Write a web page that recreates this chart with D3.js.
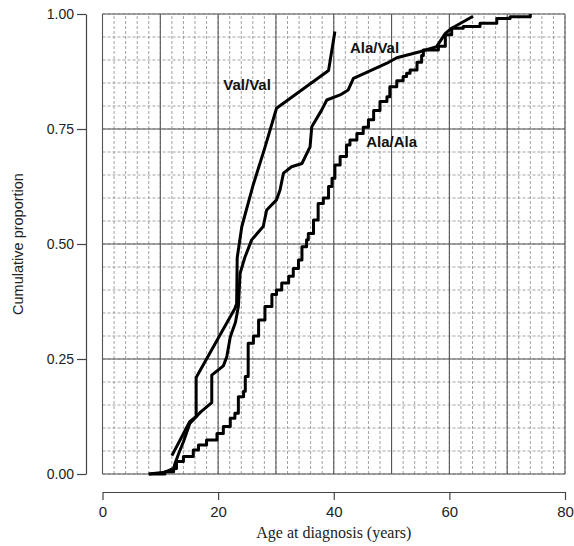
<!DOCTYPE html>
<html>
<head>
<meta charset="utf-8">
<script src="https://cdn.jsdelivr.net/npm/d3@7"></script>
<style>
  body { margin: 0; background: #fff; }
  svg { display: block; }
</style>
</head>
<body>
<div id="chart"></div>
<script>
// ages (years) and cumulative proportion
const valValAge  = [12.0, 15.1, 16.2, 16.2, 22.9, 23.2, 23.3, 24.1, 26.1, 28.1, 30.1, 39.1, 40.2];
const valValProp = [0.04, 0.114, 0.125, 0.21, 0.36, 0.37, 0.47, 0.538, 0.63, 0.71, 0.795, 0.877, 0.962];

const alaValAge  = [8, 10.8, 12.3, 12.6, 13.2, 14.0, 15.1, 17.0, 18.9, 18.9, 20.9, 21.5, 22.1, 23.0, 23.5, 23.8,
                    24.6, 25.8, 27.8, 28.4, 30.1, 30.7, 31.3, 32.7, 34.5, 35.9, 36.2, 37.9, 38.8, 41.1, 42.5,
                    43.4, 45.7, 49.2, 50.9, 54.9, 57.8, 59.3, 60.4, 64.1];
const alaValProp = [0, 0.004, 0.012, 0.025, 0.045, 0.07, 0.11, 0.135, 0.155, 0.215, 0.235, 0.255, 0.298, 0.33, 0.364, 0.436,
                    0.47, 0.509, 0.538, 0.574, 0.596, 0.617, 0.654, 0.668, 0.675, 0.711, 0.755, 0.791, 0.813, 0.824, 0.835,
                    0.86, 0.873, 0.893, 0.905, 0.918, 0.929, 0.958, 0.969, 0.995];

// step function: age of each jump and level after it
const alaAlaAge  = [8, 10.8, 12.3, 12.8, 14.0, 15.7, 16.6, 18.0, 19.8, 20.9, 22.1, 22.9, 23.5, 24.4, 24.7, 25.2,
                    26.1, 27.0, 28.1, 29.3, 30.1, 31.0, 32.2, 33.0, 33.9, 34.5, 35.3, 35.6, 36.5, 37.3, 38.2,
                    39.1, 39.7, 40.2, 41.1, 42.2, 42.8, 44.0, 45.1, 46.0, 46.9, 48.0, 49.2, 49.7, 50.9, 52.0,
                    52.6, 53.2, 54.4, 55.2, 55.5, 58.1, 59.3, 60.4, 62.4, 65.3, 68.2, 70.5, 74.0];
const alaAlaProp = [0, 0.005, 0.012, 0.027, 0.038, 0.052, 0.063, 0.074, 0.088, 0.103, 0.121, 0.132, 0.168, 0.18, 0.212, 0.284,
                    0.30, 0.335, 0.364, 0.39, 0.40, 0.415, 0.43, 0.447, 0.465, 0.494, 0.509, 0.523, 0.552, 0.588, 0.60,
                    0.625, 0.643, 0.672, 0.69, 0.715, 0.726, 0.74, 0.754, 0.77, 0.79, 0.81, 0.82, 0.842, 0.855, 0.864,
                    0.871, 0.878, 0.895, 0.91, 0.922, 0.93, 0.955, 0.969, 0.973, 0.98, 0.99, 0.994, 1.0];

const curveLabels = [
    {text: 'Val/Val', age: 20.9, prop: 0.835},
    {text: 'Ala/Val', age: 42.8, prop: 0.915},
    {text: 'Ala/Ala', age: 45.6, prop: 0.71}
];

const xTicks = [0, 20, 40, 60, 80];
const yTicks = [0, 0.25, 0.5, 0.75, 1];
const xMinor = d3.range(0, 81, 2);
const xMajor = d3.range(0, 81, 10);
const yMinor = d3.range(0, 1.001, 0.05);
const yMajor = [0, 0.25, 0.5, 0.75, 1];

const width = 574, height = 546;
const x = d3.scaleLinear().domain([0, 80]).range([102.5, 565]);
const y = d3.scaleLinear().domain([0, 1]).range([474, 14]);

const svg = d3.select('#chart').append('svg')
    .attr('width', width)
    .attr('height', height);

// grid
const grid = svg.append('g');
grid.selectAll('.vminor').data(xMinor).enter().append('line')
    .attr('x1', d => x(d)).attr('x2', d => x(d))
    .attr('y1', y(0)).attr('y2', y(1))
    .attr('stroke', '#999').attr('stroke-width', 0.9)
    .attr('stroke-dasharray', '3,2');
grid.selectAll('.hminor').data(yMinor).enter().append('line')
    .attr('x1', x(0)).attr('x2', x(80))
    .attr('y1', d => y(d)).attr('y2', d => y(d))
    .attr('stroke', '#999').attr('stroke-width', 0.9)
    .attr('stroke-dasharray', '3,2');
grid.selectAll('.vmajor').data(xMajor).enter().append('line')
    .attr('x1', d => x(d)).attr('x2', d => x(d))
    .attr('y1', y(0)).attr('y2', y(1))
    .attr('stroke', '#555').attr('stroke-width', 1.1);
grid.selectAll('.hmajor').data(yMajor).enter().append('line')
    .attr('x1', x(0)).attr('x2', x(80))
    .attr('y1', d => y(d)).attr('y2', d => y(d))
    .attr('stroke', '#555').attr('stroke-width', 1.1);

// axes, offset from the grid
const xAxis = svg.append('g')
    .attr('transform', 'translate(0,492)')
    .call(d3.axisBottom(x).tickValues(xTicks).tickSize(8).tickSizeOuter(0).tickPadding(6));
const yAxis = svg.append('g')
    .attr('transform', 'translate(86,0)')
    .call(d3.axisLeft(y).tickValues(yTicks).tickSize(9).tickSizeOuter(0).tickPadding(3).tickFormat(d3.format('.2f')));

[xAxis, yAxis].forEach(a => {
    a.selectAll('path, line').attr('stroke', '#444').attr('stroke-width', 1.2);
    a.selectAll('text').attr('fill', '#222').style('font-family', 'Liberation Sans, Arial, sans-serif');
});
xAxis.selectAll('text').style('font-size', '15px');
yAxis.selectAll('text').style('font-size', '14px');

svg.append('text')
    .attr('x', x(40)).attr('y', 538)
    .attr('text-anchor', 'middle')
    .style('font-family', 'Liberation Serif, Times New Roman, serif')
    .style('font-size', '16px')
    .attr('fill', '#222')
    .text('Age at diagnosis (years)');

svg.append('text')
    .attr('transform', 'translate(23,' + y(0.5) + ') rotate(-90)')
    .attr('text-anchor', 'middle')
    .style('font-family', 'Liberation Sans, Arial, sans-serif')
    .style('font-size', '14.5px')
    .attr('fill', '#222')
    .text('Cumulative proportion');

// curves
const lineLinear = d3.line().x(d => x(d[0])).y(d => y(d[1]));
const lineStep = d3.line().x(d => x(d[0])).y(d => y(d[1])).curve(d3.curveStepAfter);

const series = [
    {pts: d3.zip(valValAge, valValProp), gen: lineLinear},
    {pts: d3.zip(alaValAge, alaValProp), gen: lineLinear},
    {pts: d3.zip(alaAlaAge, alaAlaProp), gen: lineStep}
];

svg.append('g').selectAll('path').data(series).enter().append('path')
    .attr('d', d => d.gen(d.pts))
    .attr('fill', 'none')
    .attr('stroke', '#000')
    .attr('stroke-width', 3)
    .attr('stroke-linejoin', 'round');

svg.append('g').selectAll('text').data(curveLabels).enter().append('text')
    .attr('x', d => x(d.age)).attr('y', d => y(d.prop))
    .style('font-family', 'Liberation Sans, Arial, sans-serif')
    .style('font-size', '15px')
    .style('font-weight', 'bold')
    .attr('fill', '#111')
    .text(d => d.text);
</script>
</body>
</html>
